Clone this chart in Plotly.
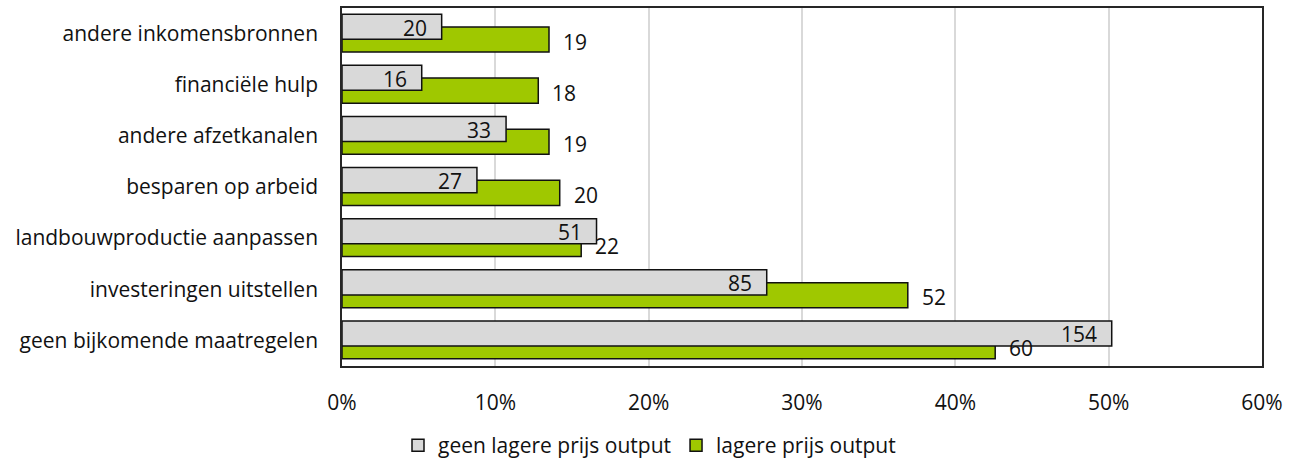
import plotly.graph_objects as go

categories = [
    "geen bijkomende maatregelen",
    "investeringen uitstellen",
    "landbouwproductie aanpassen",
    "besparen op arbeid",
    "andere afzetkanalen",
    "financiële hulp",
    "andere inkomensbronnen",
]
# share of respondents (%)
pct_geen_lager = [50.2, 27.7, 16.6, 8.8, 10.7, 5.2, 6.5]
pct_lager = [42.6, 36.9, 15.6, 14.2, 13.5, 12.8, 13.5]
# counts shown as labels
n_geen_lager = [154, 85, 51, 27, 33, 16, 20]
n_lager = [60, 52, 22, 20, 19, 18, 19]

FONT = "Open Sans"
INK = "#111111"

fig = go.Figure()
fig.add_bar(
    name="lagere prijs output",
    y=categories,
    x=pct_lager,
    orientation="h",
    width=0.49,
    offset=-0.36,
    marker=dict(color="#9fc800", line=dict(color=INK, width=1.5)),
    legendrank=2,
)
fig.add_bar(
    name="geen lagere prijs output",
    y=categories,
    x=pct_geen_lager,
    orientation="h",
    width=0.49,
    offset=-0.11,
    marker=dict(color="#d9d9d9", line=dict(color=INK, width=1.5)),
    legendrank=1,
)

# count labels: grey ones inside the bar end, green ones just outside
for cat, v, n in zip(categories, pct_geen_lager, n_geen_lager):
    fig.add_annotation(x=v, y=cat, text=str(n), showarrow=False,
                       xanchor="right", xshift=-13, yshift=6)
for cat, v, n in zip(categories, pct_lager, n_lager):
    fig.add_annotation(x=v, y=cat, text=str(n), showarrow=False,
                       xanchor="left", xshift=12, yshift=-8)

fig.update_layout(
    barmode="overlay",
    width=1299,
    height=466,
    margin=dict(l=342, r=37, t=8, b=100),
    plot_bgcolor="white",
    paper_bgcolor="white",
    font=dict(family=FONT, size=21, color=INK),
    legend=dict(
        orientation="h",
        xref="container",
        yref="container",
        x=0.5,
        xanchor="center",
        y=0.0,
        yanchor="bottom",
        font=dict(size=21),
        itemwidth=30,
    ),
    showlegend=True,
)
fig.update_xaxes(
    range=[0, 60],
    dtick=10,
    ticksuffix="%",
    showgrid=True,
    gridcolor="#d9d9d9",
    gridwidth=1.5,
    zeroline=False,
    showline=True,
    linecolor="#262626",
    linewidth=1.5,
    mirror=True,
    ticks="",
    ticklabelstandoff=17,
    automargin=False,
)
fig.update_yaxes(
    categoryorder="array",
    categoryarray=categories,
    showline=True,
    linecolor="#262626",
    linewidth=1.5,
    mirror=True,
    ticks="",
    ticklabelstandoff=18,
    automargin=False,
)
fig.write_html(
    "out.html",
    config={"displayModeBar": False},
    post_script="document.body.style.margin='0';",
)
